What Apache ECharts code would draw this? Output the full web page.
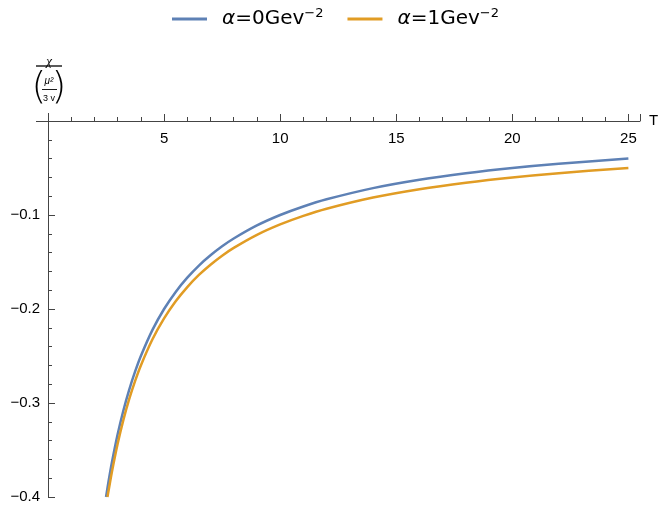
<!DOCTYPE html>
<html>
<head>
<meta charset="utf-8">
<script src="https://cdn.jsdelivr.net/npm/echarts@6/dist/echarts.min.js"></script>
<style>
  html, body { margin: 0; padding: 0; background: #fff; }
  #chart { width: 663px; height: 511px; }
</style>
</head>
<body>
<div id="chart"></div>
<script>
// 数据: 点 (T, χ/(μ²/3v))
const seriesNames = ['α=0Gev', 'α=1Gev']
const tBlue = [2.5, 2.62, 2.75, 3, 3.25, 3.5, 3.75, 4, 4.5, 5, 5.5, 6, 6.5, 7, 7.5, 8, 9, 10, 11, 12, 14, 16, 18, 20, 22, 25]
const chiBlue = [-0.4, -0.3817, -0.3636, -0.3333, -0.3077, -0.2857, -0.2667, -0.25, -0.2222, -0.2, -0.1818, -0.1667, -0.1538, -0.1429, -0.1333, -0.125, -0.1111, -0.1, -0.0909, -0.0833, -0.0714, -0.0625, -0.0556, -0.05, -0.0455, -0.04]
const tOrange = [2.56, 2.62, 2.75, 3, 3.25, 3.5, 3.75, 4, 4.5, 5, 5.5, 6, 6.5, 7, 7.5, 8, 9, 10, 11, 12, 14, 16, 18, 20, 22, 25]
const chiOrange = [-0.4, -0.3917, -0.3736, -0.3433, -0.3177, -0.2957, -0.2767, -0.26, -0.2322, -0.21, -0.1918, -0.1767, -0.1638, -0.1529, -0.1433, -0.135, -0.1211, -0.11, -0.1009, -0.0933, -0.0814, -0.0725, -0.0656, -0.06, -0.0555, -0.05]
const xTicks = [5, 10, 15, 20, 25]
const yTicks = [-0.1, -0.2, -0.3, -0.4]

const colorArr = ['#5e81b5', '#e19c24']
const axisColor = '#444'

const chart = echarts.init(document.getElementById('chart'))

const pairs = (xs, ys) => xs.map((x, i) => [x, ys[i]])

const legendRich = {
    a: { fontStyle: 'italic', fontSize: 20, fontFamily: 'DejaVu Sans', color: '#000' },
    t: { fontSize: 20, fontFamily: 'DejaVu Sans', color: '#000' },
    s: { fontSize: 13, fontFamily: 'DejaVu Sans', color: '#000', padding: [0, 0, 11, 0] },
}

const option = {
    animation: false,
    textStyle: { fontFamily: 'Liberation Sans' },
    legend: {
        top: 2,
        left: 167,
        itemWidth: 35,
        itemHeight: 3,
        itemGap: 24,
        icon: 'rect',
        data: seriesNames,
        formatter: name => '{a|α}{t|' + name.slice(1) + '}{s|−2}',
        textStyle: { rich: legendRich, padding: [0, 0, 0, 10] },
    },
    grid: { left: 48, right: 23, top: 121, bottom: 14, outerBoundsMode: 'none' },
    xAxis: {
        type: 'value',
        position: 'top',
        min: 0,
        max: 25.5,
        interval: 5,
        name: 'T',
        nameGap: 9,
        nameTextStyle: { fontSize: 15, color: '#000', verticalAlign: 'middle' },
        axisLine: { onZero: false, lineStyle: { color: axisColor, width: 1 } },
        axisTick: { inside: false, length: 7, lineStyle: { color: axisColor } },
        minorTick: { show: true, splitNumber: 5, length: 4, lineStyle: { color: axisColor } },
        splitLine: { show: false },
        axisLabel: {
            inside: true,
            color: '#000',
            fontSize: 15,
            margin: 10,
            showMaxLabel: false,
            formatter: v => (xTicks.includes(v) ? String(v) : ''),
        },
    },
    yAxis: {
        type: 'value',
        min: -0.4,
        max: 0,
        interval: 0.1,
        axisLine: { onZero: false, lineStyle: { color: axisColor, width: 1 } },
        axisTick: { inside: true, length: 7, lineStyle: { color: axisColor } },
        minorTick: { show: true, splitNumber: 5, length: 4, lineStyle: { color: axisColor } },
        splitLine: { show: false },
        axisLabel: {
            color: '#000',
            fontSize: 15,
            margin: 8,
            formatter: v => {
                const r = Math.round(v * 10) / 10
                return yTicks.includes(r) ? '−' + Math.abs(r) : ''
            },
        },
    },
    graphic: [
        // x 轴向左多出的一小段, y 轴向上多出的一小段
        { type: 'line', shape: { x1: 36, y1: 121.5, x2: 48, y2: 121.5 }, style: { stroke: axisColor, lineWidth: 1 } },
        { type: 'line', shape: { x1: 48.5, y1: 113, x2: 48.5, y2: 121 }, style: { stroke: axisColor, lineWidth: 1 } },
        // 纵轴标题  χ / (μ²/3v)
        { type: 'text', x: 49, y: 62, style: { text: 'χ', fontSize: 13, fontStyle: 'italic', fill: '#000', align: 'center', verticalAlign: 'middle', fontFamily: 'Liberation Serif' } },
        { type: 'line', shape: { x1: 36, y1: 66, x2: 62, y2: 66 }, style: { stroke: '#000', lineWidth: 1.3 } },
        { type: 'text', x: 39, y: 88, style: { text: '(', fontSize: 38, fill: '#000', align: 'center', verticalAlign: 'middle', fontFamily: 'DejaVu Sans', fontWeight: 100 } },
        { type: 'text', x: 59, y: 88, style: { text: ')', fontSize: 38, fill: '#000', align: 'center', verticalAlign: 'middle', fontFamily: 'DejaVu Sans', fontWeight: 100 } },
        { type: 'text', x: 49, y: 81, style: { text: 'μ²', fontSize: 10, fontStyle: 'italic', fill: '#000', align: 'center', verticalAlign: 'middle' } },
        { type: 'line', shape: { x1: 42, y1: 89.5, x2: 57, y2: 89.5 }, style: { stroke: '#000', lineWidth: 0.9 } },
        { type: 'text', x: 49, y: 99, style: { text: '3 v', fontSize: 9, fill: '#000', align: 'center', verticalAlign: 'middle' } },
    ],
    series: [
        {
            name: seriesNames[0],
            type: 'line',
            smooth: 0.3,
            showSymbol: false,
            data: pairs(tBlue, chiBlue),
            lineStyle: { color: colorArr[0], width: 2.5 },
            itemStyle: { color: colorArr[0] },
        },
        {
            name: seriesNames[1],
            type: 'line',
            smooth: 0.3,
            showSymbol: false,
            data: pairs(tOrange, chiOrange),
            lineStyle: { color: colorArr[1], width: 2.5 },
            itemStyle: { color: colorArr[1] },
        },
    ],
}
chart.setOption(option)
</script>
</body>
</html>
